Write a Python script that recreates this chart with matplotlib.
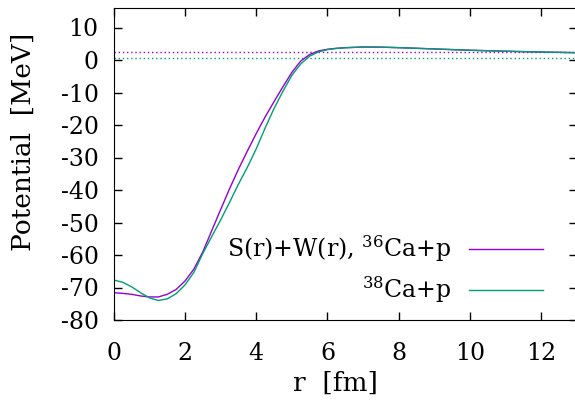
import numpy as np
import matplotlib
matplotlib.use("Agg")
import matplotlib.pyplot as plt

plt.rcParams['font.family'] = ['DejaVu Serif']
plt.rcParams['mathtext.fontset'] = 'dejavuserif'
plt.rcParams['axes.unicode_minus'] = False

# radius grid [fm]
r = [0, 0.25, 0.5, 0.75, 1.0, 1.25, 1.5, 1.75, 2.0, 2.25, 2.5, 2.75, 3.0,
     3.25, 3.5, 3.75, 4.0, 4.25, 4.5, 4.75, 5.0, 5.25, 5.5, 5.75, 6.0,
     6.25, 6.5, 7.0, 7.5, 8.0, 8.5, 9.0, 10.0, 11.0, 12.0, 13.0]

# S(r)+W(r), 36Ca+p  [MeV]
v_ca36 = [-71.6, -71.8, -72.1, -72.6, -72.9, -72.9, -72.1, -70.6, -68.0,
          -64.3, -59.0, -52.5, -46.0, -39.6, -33.6, -28.0, -22.6, -17.5,
          -12.8, -8.2, -3.8, -0.3, 1.7, 2.8, 3.3, 3.6, 3.8, 4.0, 3.95,
          3.8, 3.6, 3.4, 3.0, 2.7, 2.45, 2.25]

# 38Ca+p  [MeV]
v_ca38 = [-67.7, -68.4, -69.8, -71.6, -73.2, -74.0, -73.5, -71.9, -69.2,
          -65.3, -59.5, -54.3, -49.2, -43.8, -38.2, -33.0, -27.3, -20.9,
          -14.9, -9.6, -4.7, -1.2, 1.2, 2.5, 3.2, 3.55, 3.75, 4.0, 3.95,
          3.8, 3.6, 3.4, 3.0, 2.7, 2.45, 2.25]

# energy levels (dotted lines)
e_ca36 = 2.55
e_ca38 = 0.55

labels = [r'S(r)+W(r), $^{36}$Ca+p', r'$^{38}$Ca+p']
c_purple = '#9400d3'
c_green = '#009e73'

fig = plt.figure(figsize=(5.75, 4.0), dpi=100)
ax = fig.add_axes([0.198, 0.2, 0.805, 0.78])

ax.axhline(e_ca36, color=c_purple, lw=1, ls=(0, (1, 2)))
ax.axhline(e_ca38, color=c_green, lw=1, ls=(0, (1, 2)))
ax.plot(r, v_ca36, color=c_purple, lw=1, label=labels[0])
ax.plot(r, v_ca38, color=c_green, lw=1, label=labels[1])

ax.set_xlim(0, 13)
ax.set_ylim(-80, 16)
ax.set_xticks(np.arange(0, 13, 2))
ax.set_yticks(np.arange(-80, 11, 10))
ax.tick_params(direction='in', length=6, width=1, labelsize=17,
               top=True, right=True, pad=11)
ax.tick_params(axis='x', pad=16)
ax.set_xlabel('r  [fm]', fontsize=19)
ax.set_ylabel('Potential  [MeV]', fontsize=19)
ax.xaxis.set_label_coords(0.479, -0.163)
ax.yaxis.set_label_coords(-0.168, 0.57)

ax.legend(loc='center right', bbox_to_anchor=(0.972, 0.162), frameon=False,
          markerfirst=False, handlelength=3.1, handletextpad=0.76,
          labelspacing=0.45, fontsize=17)

fig.savefig('out.png', dpi=100)
